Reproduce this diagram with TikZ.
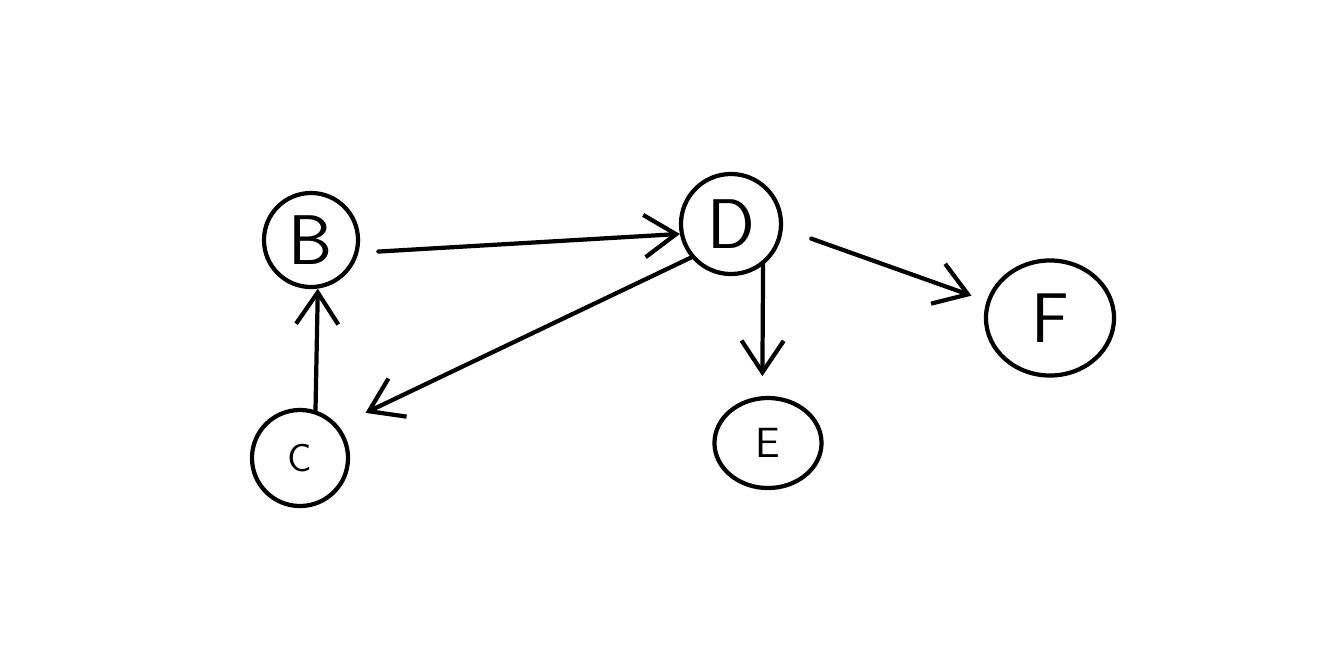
\documentclass[tikz,border=0pt]{standalone}
\usetikzlibrary{arrows.meta}
\usetikzlibrary{shapes.geometric}

\tikzset{
	vertex/.style={draw=black, line width=1.2pt, circle, inner sep=0pt, font=\sffamily},
	oval/.style={draw=black, line width=1.2pt, ellipse, inner sep=0pt, font=\sffamily},
	edge/.style={black, line width=1.2pt, line cap=round, -{Straight Barb[length=9pt, width=12pt, line width=1.2pt]}}
}

\begin{document}
\begin{tikzpicture}[x=0.01cm, y=-0.01cm]
				\useasboundingbox (0,0) rectangle (1327,645);
				\node[vertex, minimum size=0.94cm, font=\sffamily\fontsize{20}{24}\selectfont] (B) at ( 311, 240) {B};
				\node[vertex, minimum size=0.96cm, font=\sffamily\fontsize{11}{13}\selectfont] (C) at ( 300, 458) {C};
				\node[vertex, minimum size=1.00cm, font=\sffamily\fontsize{20}{24}\selectfont] (D) at ( 731, 224) {D};
				\node[oval, minimum width=1.07cm, minimum height=0.90cm, font=\sffamily\fontsize{12}{14}\selectfont] (E) at ( 768, 443) {E};
				\node[oval, minimum width=1.28cm, minimum height=1.15cm, font=\sffamily\fontsize{20}{24}\selectfont] (F) at (1050, 318) {F};
				\draw[edge] (C.72)  -- (B.-82);
				\draw[edge, shorten <=0.2cm] (B.-15) -- (D.191);
				\draw[edge, shorten >=0.3cm] (D.220) -- (C.40);
				\draw[edge, shorten >=0.2cm] (D.-52) -- (E.97);
				\draw[edge, shorten <=0.3cm, shorten >=0.16cm] (D.-5) -- (F.165);
			\end{tikzpicture}
\end{document}
